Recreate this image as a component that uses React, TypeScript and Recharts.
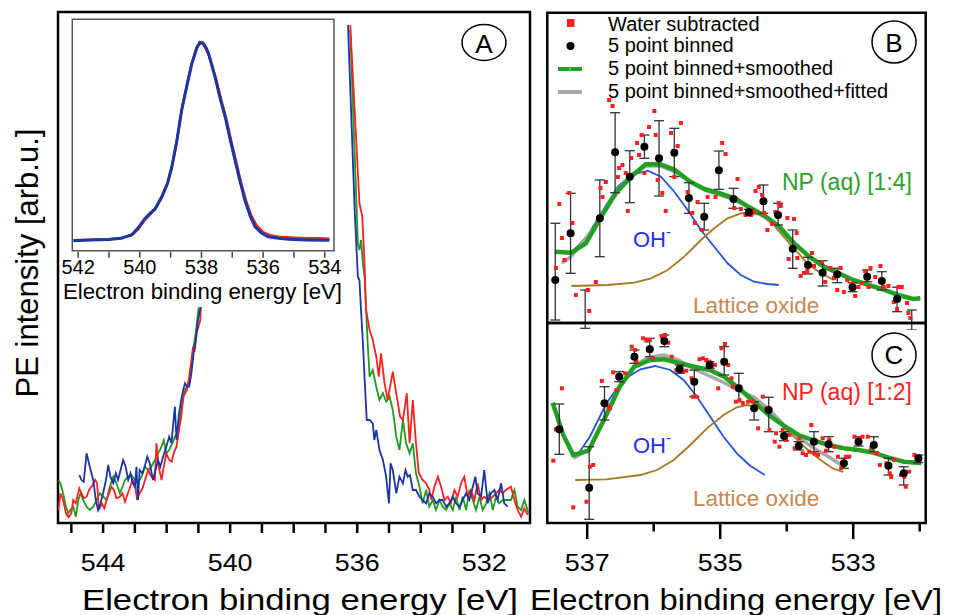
import React from "react";
import { ComposedChart, Line, Scatter, XAxis, YAxis, ErrorBar, ReferenceArea } from "recharts";

const FONT = '"Liberation Sans", Arial, Helvetica, sans-serif';

// ---------- panel A : O 1s spectra, [binding energy eV, intensity arb.u.] ----------
const redLeft = [[545.41,13],[545.34,29.7],[545.26,23],[545.17,9.7],[545.09,5.7],[545.0,9.7],[544.94,23],[544.86,19.7],[544.75,34.7],[544.68,29.7],[544.61,24.7],[544.52,26.3],[544.44,33],[544.33,38],[544.25,43],[544.19,39.7],[544.13,13],[544.04,19.7],[543.96,14.7],[543.89,23],[543.81,29.7],[543.74,36.3],[543.66,33],[543.58,24.7],[543.47,26.3],[543.39,29.7],[543.31,21.3],[543.24,28],[543.16,34.7],[543.08,43],[543.0,39.7],[542.93,23],[542.85,29.7],[542.76,34.7],[542.68,43],[542.58,53],[542.48,46.3],[542.37,43],[542.32,79.7],[542.25,56.3],[542.16,43],[542.09,56.3],[542.01,69.7],[541.92,63],[541.84,61.3],[541.78,69.7],[541.69,76.3],[541.61,93],[541.54,106.3],[541.48,126.3],[541.42,129.7],[541.36,133],[541.29,146.3],[541.22,163],[541.17,176.3],[541.12,171.3],[541.06,189.7],[541.0,196.3],[540.94,203],[540.9,230]];
const greenLeft = [[545.41,43],[545.34,39.7],[545.26,29.7],[545.17,16.3],[545.1,9.7],[545.03,13],[544.94,16.3],[544.86,6.3],[544.78,23],[544.71,29.7],[544.63,23],[544.52,16.3],[544.42,13],[544.31,16.3],[544.21,23],[544.1,29.7],[544.0,26.3],[543.89,23],[543.79,36.3],[543.68,46.3],[543.58,39.7],[543.47,29.7],[543.39,36.3],[543.31,43],[543.21,46.3],[543.11,48],[543.0,43],[542.9,39.7],[542.79,46.3],[542.69,56.3],[542.58,53],[542.48,56.3],[542.37,63],[542.27,69.7],[542.16,76.3],[542.09,83],[542.01,69.7],[541.92,73],[541.82,79.7],[541.74,86.3],[541.67,89.7],[541.59,103],[541.5,119.7],[541.43,133],[541.36,136.3],[541.29,143],[541.22,156.3],[541.15,176.3],[541.06,196.3],[540.99,216.3],[540.95,235]];
const blueLeft = [[544.75,48],[544.68,43],[544.61,41.3],[544.52,69.7],[544.42,56.3],[544.31,43],[544.23,23],[544.16,13],[544.08,19.7],[544.0,29.7],[543.91,43],[543.84,58],[543.77,46.3],[543.68,39.7],[543.6,49.7],[543.53,43],[543.45,53],[543.37,63],[543.29,56.3],[543.21,43],[543.14,49.7],[543.06,39.7],[543.0,36.3],[542.95,56.3],[542.9,23],[542.85,53],[542.76,49.7],[542.69,56.3],[542.61,66.3],[542.53,59.7],[542.43,43],[542.35,53],[542.27,63],[542.2,56.3],[542.11,66.3],[542.01,76.3],[541.92,86.3],[541.85,79.7],[541.8,96.3],[541.74,116.3],[541.69,83],[541.61,109.7],[541.54,123],[541.48,133],[541.42,139.7],[541.36,136.3],[541.29,136.3],[541.22,149.7],[541.15,169.7],[541.08,183],[541.01,203],[540.93,216.3],[540.9,235]];
const redRight = [[536.22,498],[536.08,413],[535.93,319.7],[535.84,306.3],[535.77,259.7],[535.72,213],[535.61,193],[535.51,183],[535.4,166.3],[535.32,146.3],[535.25,169.7],[535.14,139.7],[535.04,123],[534.88,151.3],[534.77,129.7],[534.65,106.3],[534.56,103],[534.44,129.7],[534.35,79.7],[534.25,123],[534.15,79.7],[534.06,49.7],[533.94,43],[533.83,39.7],[533.73,33],[533.67,23],[533.57,36.3],[533.46,46.3],[533.36,36.3],[533.25,23],[533.15,26.3],[533.05,19.7],[532.94,33],[532.84,26.3],[532.73,39.7],[532.63,46.3],[532.52,26.3],[532.42,33],[532.31,23],[532.21,39.7],[532.1,23],[532.0,26.3],[531.89,23],[531.73,26.3],[531.63,29.7],[531.53,33],[531.42,29.7],[531.32,33],[531.16,36.3],[531.05,23],[530.95,13],[530.84,6.3],[530.74,14.7],[530.63,8]];
const greenRight = [[536.22,493],[535.98,279.7],[535.93,273],[535.88,283],[535.82,259.7],[535.77,246.3],[535.67,179.7],[535.61,146.3],[535.51,153],[535.4,136.3],[535.3,123],[535.19,129.7],[535.09,121.3],[534.98,126.3],[534.88,113],[534.77,86.3],[534.67,73],[534.56,103],[534.46,79.7],[534.35,69.7],[534.25,79.7],[534.15,49.7],[534.04,36.3],[533.94,19.7],[533.83,33],[533.73,16.3],[533.62,23],[533.52,13],[533.41,23],[533.31,16.3],[533.2,13],[533.1,19.7],[532.99,13],[532.89,26.3],[532.78,13],[532.68,26.3],[532.57,13],[532.47,33],[532.36,23],[532.26,13],[532.15,26.3],[532.05,13],[531.94,19.7],[531.84,29.7],[531.73,13],[531.63,26.3],[531.53,19.7],[531.42,23],[531.32,23],[531.16,23],[531.05,33],[530.95,16.3],[530.84,13],[530.74,23],[530.6,9.7]];
const blueRight = [[536.29,498],[536.08,313],[535.98,246.3],[535.93,243],[535.88,213],[535.82,179.7],[535.77,146.3],[535.7,103],[535.61,103],[535.51,99.7],[535.46,83],[535.4,93],[535.3,73],[535.19,63],[535.09,46.3],[535.0,19.7],[534.95,59.7],[534.88,53],[534.77,29.7],[534.67,46.3],[534.56,39.7],[534.48,53],[534.41,46.3],[534.34,48],[534.25,33],[534.15,33],[534.04,26.3],[533.94,23],[533.83,19.7],[533.73,29.7],[533.62,26.3],[533.52,19.7],[533.41,23],[533.31,23],[533.2,16.3],[533.1,19.7],[532.99,26.3],[532.89,19.7],[532.78,16.3],[532.68,23],[532.57,29.7],[532.47,23],[532.36,36.3],[532.28,46.3],[532.21,29.7],[532.1,26.3],[532.0,53],[531.89,19.7],[531.79,29.7],[531.68,33],[531.58,23],[531.47,39.7],[531.37,19.7],[531.26,16.3]];
const aTicks = [545,544,543,542,541,540,539,538,537,536,535,534,533,532];
const aLabels = [544, 540, 536, 532];

// ---------- inset : full O 1s peak, normalised ----------
const insetRed = [[542.15,0.002],[541.6,0.005],[541.0,0.008],[540.6,0.014],[540.26,0.028],[540.05,0.058],[539.83,0.105],[539.65,0.135],[539.5,0.158],[539.29,0.215],[539.1,0.285],[538.96,0.37],[538.8,0.5],[538.64,0.66],[538.47,0.785],[538.31,0.895],[538.15,0.972],[538.05,0.995],[537.95,0.99],[537.85,0.96],[537.75,0.93],[537.52,0.81],[537.36,0.71],[537.19,0.61],[537.03,0.5],[536.87,0.395],[536.71,0.29],[536.55,0.2],[536.38,0.125],[536.2,0.075],[536.0,0.043],[535.78,0.028],[535.5,0.02],[535.1,0.016],[534.6,0.012],[534.2,0.013],[533.85,0.01]];
const insetGreen = [[542.15,0.001],[541.6,0.004],[541.0,0.007],[540.6,0.013],[540.26,0.032],[540.05,0.068],[539.83,0.11],[539.65,0.138],[539.5,0.16],[539.29,0.218],[539.1,0.29],[538.96,0.375],[538.8,0.505],[538.64,0.66],[538.47,0.785],[538.31,0.893],[538.15,0.97],[538.05,0.99],[537.95,0.993],[537.85,0.968],[537.77,0.94],[537.56,0.822],[537.4,0.718],[537.23,0.62],[537.07,0.508],[536.91,0.4],[536.75,0.298],[536.59,0.2],[536.42,0.124],[536.26,0.07],[536.05,0.039],[535.83,0.022],[535.5,0.013],[535.18,0.009],[534.6,0.006],[533.85,0.004]];
const insetBlue = [[542.15,0.0],[541.6,0.003],[541.0,0.006],[540.6,0.012],[540.26,0.03],[540.05,0.065],[539.83,0.112],[539.65,0.14],[539.5,0.162],[539.29,0.221],[539.1,0.29],[538.96,0.372],[538.8,0.5],[538.64,0.657],[538.47,0.78],[538.31,0.891],[538.15,0.97],[538.05,0.997],[537.95,0.995],[537.85,0.97],[537.77,0.941],[537.56,0.824],[537.4,0.72],[537.23,0.623],[537.07,0.51],[536.91,0.405],[536.75,0.3],[536.59,0.204],[536.42,0.125],[536.26,0.07],[536.05,0.038],[535.83,0.02],[535.5,0.012],[535.18,0.007],[534.6,0.004],[533.85,0.002]];
const insetTicks = [542,541,540,539,538,537,536,535,534];
const insetLabels = [542, 540, 538, 536, 534];

// ---------- panel B : NP (aq) [1:4] ----------
const bWater = [[537.47,55],[537.42,119],[537.38,85],[537.34,63],[537.27,130],[537.22,100],[537.17,28],[536.99,33],[536.97,12],[536.87,41],[536.8,135],[536.77,126],[536.72,141],[536.67,223],[536.62,217],[536.54,146],[536.52,155],[536.47,158],[536.42,150],[536.39,112],[536.34,165],[536.25,180],[536.22,168],[536.18,188],[536.14,150],[536.07,196],[535.99,212],[535.97,188],[535.94,143],[535.87,130],[535.82,112],[535.74,190],[535.69,146],[535.64,177],[535.59,200],[535.49,131],[535.42,110],[535.38,100],[535.34,121],[535.27,93],[535.19,126],[535.07,126],[534.97,180],[534.92,169],[534.82,123],[534.79,115],[534.74,144],[534.69,114],[534.62,108],[534.59,112],[534.54,108],[534.49,111],[534.47,132],[534.42,136],[534.37,128],[534.34,110],[534.29,93],[534.22,99],[534.17,111],[534.12,120],[534.09,117],[533.99,105],[533.97,64],[533.89,104],[533.85,90],[533.84,65],[533.79,47],[533.74,50],[533.69,52],[533.62,70],[533.59,57],[533.47,61],[533.42,41],[533.34,55],[533.29,45],[533.24,33],[533.19,55],[533.14,31],[533.09,43],[533.02,39],[532.97,27],[532.92,36],[532.87,40],[532.82,52],[532.77,36],[532.74,55],[532.67,46],[532.59,57],[532.57,41],[532.54,36],[532.47,37],[532.39,21],[532.34,14],[532.32,36],[532.27,36],[532.19,20],[532.17,10],[532.14,5]];
const bBinE = [537.48,537.25,537.03,536.81,536.58,536.36,536.14,535.92,535.69,535.47,535.24,535.02,534.8,534.57,534.35,534.13,533.91,533.68,533.46,533.24,533.01,532.79,532.57,532.34,532.12];
const bBinV = [43,89.7,-5.3,104.7,170.7,146.3,176.3,164.7,170.3,125,106.3,152.7,124,110.7,121.7,108,74.3,58,50.3,48.7,35.7,46.3,42,24,-7];
const bBinLo = [3,49.7,-5.3,66.3,130.3,120.3,164.7,127,146.3,109.7,93,133.7,114.7,108,109.7,98,54.7,49,37,40.3,31.3,41.3,33,11.3,-7];
const bBinHi = [99.7,129.7,33,143,210.3,172.3,188,202.3,194.7,140.3,119.7,172,134.7,113.7,138,119.7,93,65.7,62.3,54.7,40.3,53,51.3,35.7,13];
const bSmooth = [[537.49,71.3],[537.24,70.3],[537.02,79.7],[536.79,106.3],[536.57,129.7],[536.34,146.3],[536.12,158.7],[535.9,158.7],[535.68,153],[535.45,141.3],[535.23,133.7],[535.0,129.7],[534.78,124.7],[534.56,115.7],[534.33,107],[534.11,96.3],[533.89,79.7],[533.66,66.3],[533.44,56.3],[533.22,49.7],[533.0,43],[532.77,38],[532.55,33.7],[532.32,28],[532.1,24],[531.99,24.7]];
const bFit = [[537.38,60],[537.25,66],[537.1,78],[536.9,95],[536.79,107],[536.57,131],[536.34,148],[536.12,157],[535.9,157],[535.68,151],[535.45,141],[535.23,133],[535.0,128],[534.78,123],[534.56,115],[534.33,106],[534.11,95],[533.89,80],[533.66,66],[533.44,57],[533.22,50]];
const bOH = [[537.22,71.3],[536.99,88],[536.79,109.7],[536.54,136.3],[536.34,148],[536.09,152.3],[535.89,146.3],[535.69,131.3],[535.49,113],[535.29,93],[535.09,76.3],[534.89,59.7],[534.69,48],[534.49,41.3],[534.29,39],[534.12,38]];
const bLattice = [[537.24,37],[536.69,38],[536.29,40.3],[536.04,44.7],[535.79,53],[535.54,66.3],[535.29,83],[535.09,94.7],[534.89,104.7],[534.69,109.7],[534.57,110.7],[534.39,108],[534.24,101.3],[534.09,89.7],[533.89,74.7],[533.69,59.7],[533.49,49.7],[533.29,43]];

// ---------- panel C : NP (aq) [1:2] ----------
const cWater = [[537.51,62.3],[537.47,93.7],[537.38,134.7],[537.21,15.7],[537.01,21.3],[536.96,56.3],[536.91,58],[536.78,142],[536.68,116.3],[536.66,114.7],[536.61,150.7],[536.56,133],[536.51,148],[536.43,149.7],[536.33,176.3],[536.28,173],[536.26,161.3],[536.16,184.7],[536.11,182.3],[536.06,183],[536.01,164.7],[535.88,186.3],[535.83,188],[535.78,180.3],[535.73,166.3],[535.66,153],[535.61,156.3],[535.56,151.3],[535.51,152.3],[535.43,144.7],[535.41,126.3],[535.36,126.3],[535.31,163.7],[535.26,164.7],[535.21,163],[535.16,161.3],[535.13,156.3],[535.08,158],[535.03,134.7],[534.98,174.7],[534.93,179],[534.88,158],[534.83,144.7],[534.81,136.3],[534.76,121.3],[534.71,123],[534.66,119.7],[534.58,121.3],[534.51,121.3],[534.46,116.3],[534.43,94.7],[534.36,126.3],[534.31,114.7],[534.26,93],[534.18,81.3],[534.16,89.7],[534.11,76.3],[534.06,93],[534.01,83],[533.96,88],[533.88,74.7],[533.81,84.7],[533.76,69.7],[533.71,68],[533.66,71.3],[533.63,98],[533.58,69.7],[533.53,68],[533.46,84.7],[533.41,72.3],[533.36,83],[533.28,76.3],[533.23,66.3],[533.18,54.7],[533.11,66.3],[533.06,66.3],[532.98,86.3],[532.91,84.7],[532.86,86.3],[532.78,86.3],[532.73,74.7],[532.65,69.7],[532.6,58],[532.5,59.7],[532.45,49.7],[532.43,46],[532.38,63],[532.28,48],[532.23,46],[532.21,36.3],[532.16,51.3],[532.08,68],[532.0,63]];
const cBinE = [537.42,536.97,536.74,536.52,536.29,536.06,535.84,535.61,535.39,535.16,534.94,534.72,534.49,534.27,534.04,533.82,533.59,533.37,533.14,532.92,532.69,532.47,532.24,532.02];
const cBinV = [93.7,35.3,119.7,146.3,166.3,173.7,182,154,141.3,158,161.3,134.7,114.7,113,87,77,81.3,78.7,59.7,81.3,78,57.3,49.7,64.7];
const cBinLo = [68.7,3.7,103,141.3,159.7,166.3,176.3,149.7,126.3,154.7,148,121.3,103,91.3,82.3,73,71.3,71.3,54.7,77,71.3,48,38,60.3];
const cBinHi = [119,76.3,136.3,151.3,173,184.7,188,158,153,161.3,176.3,149.7,121.3,125.7,91.3,81.3,91.3,86.3,64.7,86.3,86.3,64.7,56.3,68];
const cSmooth = [[537.52,120.3],[537.36,88],[537.21,68],[536.98,72.3],[536.75,103],[536.51,136.3],[536.29,156.3],[536.06,163],[535.84,163.7],[535.61,159.7],[535.39,156.3],[535.16,153],[534.94,146.3],[534.72,134.7],[534.49,121.3],[534.27,108],[534.04,97],[533.82,88],[533.59,82.3],[533.37,78],[533.14,74.7],[532.92,73],[532.69,70.3],[532.47,65.3],[532.24,61.3],[531.98,60]];
const cFit = [[537.21,64.7],[536.98,73],[536.75,103],[536.51,138],[536.29,158],[536.06,165.7],[535.84,168],[535.61,162.3],[535.39,153.7],[535.16,147],[534.94,140.3],[534.72,132.3],[534.49,125.7],[534.27,113.7],[534.04,98],[533.82,85.7],[533.59,74.7],[533.37,66.3],[533.14,56.3]];
const cOH = [[537.18,64.7],[536.96,86.3],[536.71,119.7],[536.46,143],[536.2,153.7],[535.98,157],[535.75,153],[535.55,143],[535.35,126.3],[535.15,106.3],[534.95,86.3],[534.75,69.7],[534.55,57.3],[534.33,48]];
const cLattice = [[537.18,43],[536.71,43.7],[536.2,48],[535.95,53],[535.7,63],[535.45,78],[535.2,94.7],[534.95,108],[534.75,115.7],[534.6,118],[534.45,116.3],[534.25,108],[534.05,96.3],[533.85,83.7],[533.65,71],[533.45,61],[533.3,54.3],[533.15,51]];
const bcTicks = [537,536,535,534,533,532];
const bcLabels = [537, 535, 533];

const pts = (a: number[][]) => a.map(([e, v]) => ({ e, v }));
const bins = (E: number[], V: number[], lo: number[], hi: number[]) =>
    E.map((e, i) => ({ e, v: V[i], err: [V[i] - lo[i], hi[i] - V[i]] }));

const RED = "#ff1f1f";
const GREEN_A = "#1f9a1f";
const BLUE_A = "#1b34a6";
const SMOOTH = "#22a022";
const FIT = "#a8a8a8";
const OH_BLUE = "#2452dc";
const BROWN = "#a8781e";

const redSquare = (p: any) => <rect x={p.cx - 2} y={p.cy - 2} width={4} height={4} fill={RED} />;
const blackDot = (p: any) => <circle cx={p.cx} cy={p.cy} r={4} fill="#000" />;

function ATick(p: any) {
    const v = p.payload.value;
    return (
        <g>
            <line x1={p.x} x2={p.x} y1={p.y} y2={p.y + 10} stroke="#000" strokeWidth={2.5} />
            {aLabels.includes(v) && (
                <text transform={`translate(${p.x},${p.y + 47.5}) scale(1.12,1)`} textAnchor="middle"
                      fontSize={24} fontFamily={FONT} fill="#000">{v}</text>
            )}
        </g>
    );
}

function InsetTick(p: any) {
    const v = p.payload.value;
    return (
        <g>
            <line x1={p.x} x2={p.x} y1={p.y + 1} y2={p.y + 7} stroke="#444" strokeWidth={1.5} />
            {insetLabels.includes(v) && (
                <text transform={`translate(${p.x},${p.y + 23.5}) scale(1.05,1.05)`} textAnchor="middle"
                      fontSize={19} fontFamily={FONT} fill="#000">{v}</text>
            )}
        </g>
    );
}

function BCTick(p: any) {
    const v = p.payload.value;
    const major = bcLabels.includes(v);
    return (
        <g>
            <line x1={p.x} x2={p.x} y1={p.y} y2={p.y + (major ? 16 : 8.5)} stroke="#000" strokeWidth={2.5} />
            {major && (
                <text transform={`translate(${p.x},${p.y + 47.5}) scale(1.12,1)`} textAnchor="middle"
                      fontSize={24} fontFamily={FONT} fill="#000">{v}</text>
            )}
        </g>
    );
}

const A_DOM: [number, number] = [530.56, 545.42];
const I_DOM: [number, number] = [533.7, 542.19];
const BC_DOM: [number, number] = [531.91, 537.6];

function PanelA() {
    const lines: [number[][], string][] = [
        [greenLeft, GREEN_A], [redLeft, RED], [blueLeft, BLUE_A],
        [greenRight, GREEN_A], [redRight, RED], [blueRight, BLUE_A],
    ];
    return (
        <ComposedChart width={540} height={615} margin={{ top: 12, right: 10, left: 58, bottom: 0 }}>
            <XAxis type="number" dataKey="e" domain={A_DOM} reversed allowDataOverflow ticks={aTicks}
                   interval={0} height={92} axisLine={false} tickLine={false} tickSize={0} tickMargin={0}
                   tick={(p: any) => <ATick {...p} />} />
            <YAxis type="number" hide domain={[0, 511]} allowDataOverflow />
            <ReferenceArea x1={A_DOM[1]} x2={A_DOM[0]} y1={0} y2={511} fill="none" fillOpacity={0}
                           stroke="#000" strokeWidth={2.5} />
            {lines.map(([d, c], i) => (
                <Line key={i} data={pts(d)} dataKey="v" stroke={c} strokeWidth={1.8} dot={false}
                      isAnimationActive={false} type="linear" />
            ))}
        </ComposedChart>
    );
}

function Inset() {
    return (
        <ComposedChart width={287} height={294} margin={{ top: 6.3, right: 12, left: 13.3, bottom: 0 }}>
            <XAxis type="number" dataKey="e" domain={I_DOM} reversed allowDataOverflow ticks={insetTicks}
                   interval={0} height={56.3} axisLine={false} tickLine={false} tickSize={0} tickMargin={0}
                   tick={(p: any) => <InsetTick {...p} />} />
            <YAxis type="number" hide domain={[-0.0503, 1.113]} allowDataOverflow />
            <ReferenceArea x1={I_DOM[1]} x2={I_DOM[0]} y1={-0.0503} y2={1.113} fill="none" fillOpacity={0}
                           stroke="#555" strokeWidth={1.5} />
            <Line data={pts(insetRed)} dataKey="v" stroke={RED} strokeWidth={2.4} dot={false} isAnimationActive={false} />
            <Line data={pts(insetGreen)} dataKey="v" stroke={GREEN_A} strokeWidth={2} dot={false} isAnimationActive={false} />
            <Line data={pts(insetBlue)} dataKey="v" stroke={BLUE_A} strokeWidth={3} dot={false} isAnimationActive={false} />
        </ComposedChart>
    );
}

function FitPanel({ top, height, yMax, water, binned, smooth, fit, oh, lattice, showAxis }: any) {
    return (
        <ComposedChart width={413} height={height}
                       margin={{ top, right: 27.3, left: 7.3, bottom: showAxis ? 0 : height - top - yMax }}>
            <XAxis type="number" dataKey="e" domain={BC_DOM} reversed allowDataOverflow ticks={bcTicks}
                   interval={0} hide={!showAxis} height={92} axisLine={false} tickLine={false} tickSize={0}
                   tickMargin={0} tick={(p: any) => <BCTick {...p} />} />
            <YAxis type="number" hide domain={[0, yMax]} allowDataOverflow />
            <ReferenceArea x1={BC_DOM[1]} x2={BC_DOM[0]} y1={0} y2={yMax} fill="none" fillOpacity={0}
                           stroke="#000" strokeWidth={2.5} />
            <Scatter data={pts(water)} dataKey="v" shape={redSquare} isAnimationActive={false} />
            <Line data={pts(oh)} dataKey="v" stroke={OH_BLUE} strokeWidth={1.8} dot={false} isAnimationActive={false} />
            <Line data={pts(lattice)} dataKey="v" stroke={BROWN} strokeWidth={1.8} dot={false} isAnimationActive={false} />
            <Line data={pts(fit)} dataKey="v" stroke={FIT} strokeWidth={3.5} dot={false} isAnimationActive={false} />
            <Line data={pts(smooth)} dataKey="v" stroke={SMOOTH} strokeWidth={4.5} dot={false} isAnimationActive={false} />
            <Scatter data={binned} dataKey="v" shape={blackDot} isAnimationActive={false}>
                <ErrorBar dataKey="err" direction="y" width={5} stroke="#333" strokeWidth={1.3} />
            </Scatter>
        </ComposedChart>
    );
}

export default function App() {
    const txt = { fontFamily: FONT, fill: "#000" } as const;
    return (
        <div style={{ position: "absolute", left: 0, top: 0, width: 953, height: 615, background: "#fff", overflow: "hidden" }}>
            <div style={{ position: "absolute", left: 0, top: 0 }}><PanelA /></div>
            <div style={{ position: "absolute", left: 59.5, top: 13.5, width: 286.5, height: 293.5, background: "#fff" }} />
            <div style={{ position: "absolute", left: 59, top: 13 }}><Inset /></div>
            <div style={{ position: "absolute", left: 540, top: 0 }}>
                <FitPanel top={12.7} height={330} yMax={310.3} water={bWater} binned={bins(bBinE, bBinV, bBinLo, bBinHi)}
                          smooth={bSmooth} fit={bFit} oh={bOH} lattice={bLattice} showAxis={false} />
            </div>
            <div style={{ position: "absolute", left: 540, top: 300 }}>
                <FitPanel top={23} height={315} yMax={200} water={cWater} binned={bins(cBinE, cBinV, cBinLo, cBinHi)}
                          smooth={cSmooth} fit={cFit} oh={cOH} lattice={cLattice} showAxis />
            </div>
            <svg width={953} height={615} style={{ position: "absolute", left: 0, top: 0, pointerEvents: "none" }}>
                <text transform="translate(38,263) rotate(-90)" textAnchor="middle" fontSize={31} {...txt}>PE intensity [arb.u.]</text>
                <text x={300} y={610} textAnchor="middle" fontSize={30} textLength={436} lengthAdjust="spacingAndGlyphs" {...txt}>Electron binding energy [eV]</text>
                <text x={736} y={610} textAnchor="middle" fontSize={30} textLength={412} lengthAdjust="spacingAndGlyphs" {...txt}>Electron binding energy [eV]</text>
                <text x={202.5} y={299} textAnchor="middle" fontSize={22} textLength={279} lengthAdjust="spacingAndGlyphs" {...txt}>Electron binding energy [eV]</text>

                <ellipse cx={484} cy={42.5} rx={22} ry={18} fill="none" stroke="#000" strokeWidth={1.5} />
                <text x={484} y={52.5} textAnchor="middle" fontSize={26} {...txt}>A</text>
                <ellipse cx={894} cy={42} rx={22} ry={21} fill="none" stroke="#000" strokeWidth={1.5} />
                <text x={894} y={51.7} textAnchor="middle" fontSize={26} {...txt}>B</text>
                <ellipse cx={894} cy={355} rx={22} ry={22} fill="none" stroke="#000" strokeWidth={1.5} />
                <text x={894} y={364} textAnchor="middle" fontSize={26} {...txt}>C</text>

                <rect x={567} y={19} width={7.5} height={8} fill={RED} />
                <circle cx={570.5} cy={46} r={4} fill="#000" />
                <line x1={558} x2={582} y1={69} y2={69} stroke={SMOOTH} strokeWidth={4} />
                <line x1={570} x2={570} y1={66} y2={72} stroke="#7fcf7f" strokeWidth={1} />
                <line x1={558} x2={582} y1={92} y2={92} stroke={FIT} strokeWidth={4} />
                <text x={608} y={30.7} fontSize={20} {...txt}>Water subtracted</text>
                <text x={608} y={52} fontSize={20} {...txt}>5 point binned</text>
                <text x={608} y={75} fontSize={20} {...txt}>5 point binned+smoothed</text>
                <text x={608} y={98.3} fontSize={20} {...txt}>5 point binned+smoothed+fitted</text>

                <text x={782} y={190} fontSize={23} fontFamily={FONT} fill="#2ca02c">NP (aq) [1:4]</text>
                <text x={633} y={246.7} fontSize={22} fontFamily={FONT} fill="#1f2cff">OH<tspan dy={-10} fontSize={15}>-</tspan></text>
                <text x={693} y={313} fontSize={22.5} fontFamily={FONT} fill="#c8864e">Lattice oxide</text>

                <text x={782} y={400} fontSize={23} fontFamily={FONT} fill="#ff2020">NP (aq) [1:2]</text>
                <text x={633} y={452.7} fontSize={22} fontFamily={FONT} fill="#1f2cff">OH<tspan dy={-10} fontSize={15}>-</tspan></text>
                <text x={693} y={506} fontSize={22.5} fontFamily={FONT} fill="#c8864e">Lattice oxide</text>
            </svg>
        </div>
    );
}
